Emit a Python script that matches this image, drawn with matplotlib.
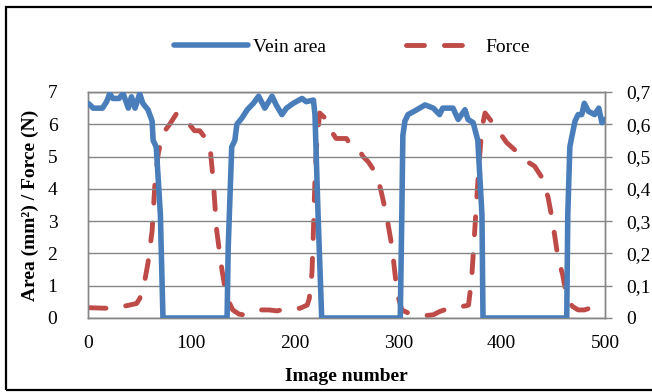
import matplotlib
matplotlib.use("Agg")
import matplotlib.pyplot as plt
from matplotlib.ticker import FuncFormatter
from matplotlib.patches import Rectangle

plt.rcParams['font.family'] = ['Liberation Serif', 'DejaVu Serif']

# Vein area (mm²) vs image number
area_x = [0, 2, 5, 14, 18, 21, 24, 30, 34, 39, 42, 45.5, 50, 53, 58, 62, 63, 66, 70, 72.5,
          134.5, 135.6, 139, 142, 144, 149, 154, 160, 165, 171, 178, 182, 187.5, 192, 198.5,
          207, 211, 218, 219.5, 222.5, 226,
          302, 303.5, 304.5, 306.5, 309.5, 318, 326, 334, 340, 343, 353, 358, 364.6, 367.5,
          372.5, 377, 381, 382,
          463, 464, 466, 467.5, 471, 474, 477.5, 480, 484, 490, 494, 497, 500]
area_y = [6.65, 6.6, 6.5, 6.5, 6.7, 6.95, 6.8, 6.8, 6.95, 6.5, 6.85, 6.5, 6.95, 6.65, 6.45,
          6.1, 5.5, 5.3, 3.2, 0,
          0, 2.2, 5.3, 5.5, 6.0, 6.2, 6.45, 6.65, 6.87, 6.5, 6.87, 6.6, 6.3, 6.5, 6.65,
          6.8, 6.7, 6.75, 6.3, 3.2, 0,
          0, 3.2, 5.65, 6.1, 6.3, 6.45, 6.6, 6.5, 6.3, 6.5, 6.5, 6.15, 6.45, 6.15,
          6.05, 5.5, 3.2, 0,
          0, 3.2, 5.3, 5.55, 6.1, 6.3, 6.3, 6.65, 6.4, 6.3, 6.5, 6.05, 6.15]

# Force (N) vs image number
force_x = [0, 10, 20, 30, 40, 47, 50, 54, 58, 62, 65, 68, 72, 79, 86, 92, 98, 103, 108, 113,
           118, 121, 124.5, 129.5, 134, 140, 146, 150, 158, 166, 175, 183, 190, 197, 205, 212,
           214, 216.6, 218, 219.5, 221, 224, 229, 231, 236, 240, 245, 250, 253, 261, 266, 271,
           276, 280, 284, 289, 294, 299, 303.5, 310, 321, 328, 334, 340, 352, 360, 366, 368,
           371, 374, 377, 379, 381, 384, 390, 395.6, 405, 413, 420.7, 427, 432, 440, 445,
           448.7, 451.6, 454.5, 459, 463, 466, 469, 474, 480, 488, 500]
force_y = [0.032, 0.031, 0.030, 0.033, 0.040, 0.045, 0.06, 0.10, 0.17, 0.27, 0.43, 0.51, 0.57,
           0.60, 0.635, 0.62, 0.60, 0.58, 0.58, 0.56, 0.53, 0.43, 0.27, 0.15, 0.065, 0.025,
           0.012, 0.01, 0.02, 0.025, 0.025, 0.022, 0.028, 0.03, 0.03, 0.04, 0.06, 0.14, 0.27,
           0.43, 0.53, 0.635, 0.62, 0.597, 0.575, 0.556, 0.556, 0.556, 0.54, 0.527, 0.50,
           0.484, 0.46, 0.437, 0.385, 0.313, 0.22, 0.077, 0.025, 0.015, 0.01, 0.008, 0.01,
           0.02, 0.033, 0.035, 0.038, 0.04, 0.12, 0.27, 0.42, 0.51, 0.59, 0.635, 0.61, 0.585,
           0.543, 0.52, 0.50, 0.48, 0.47, 0.43, 0.373, 0.31, 0.25, 0.187, 0.135, 0.065,
           0.045, 0.035, 0.025, 0.025, 0.033, 0.035]

x_ticks = [0, 100, 200, 300, 400, 500]
left_ticks = [0, 1, 2, 3, 4, 5, 6, 7]
right_ticks = [0, 0.1, 0.2, 0.3, 0.4, 0.5, 0.6, 0.7]

BLUE = '#4A7EBB'
RED = '#BE4B48'
GRID = '#868686'
FS = 14

fig = plt.figure(figsize=(6.52, 3.92), dpi=100)
ax = fig.add_axes([88 / 652, 1 - 318 / 392, (605 - 88) / 652, (318 - 92) / 392])
ax2 = ax.twinx()

l1, = ax.plot(area_x, area_y, color=BLUE, lw=4.0, solid_capstyle='round',
              solid_joinstyle='round', label='Vein area', zorder=3)
l2, = ax2.plot(force_x, force_y, color=RED, lw=3.5, dashes=(3.7, 4.1),
               dash_capstyle='round', dash_joinstyle='round', label='Force', zorder=2)

ax.set_xlim(0, 500)
ax.set_ylim(0, 7)
ax2.set_ylim(0, 0.7)
ax.set_xticks(x_ticks)
ax.set_yticks(left_ticks)
ax2.set_yticks(right_ticks)
ax2.yaxis.set_major_formatter(FuncFormatter(
    lambda v, p: '0' if abs(v) < 1e-9 else f'{v:.1f}'.replace('.', ',')))

ax.grid(axis='y', color=GRID, lw=1)
ax.set_axisbelow(True)
for a in (ax, ax2):
    for s in a.spines.values():
        s.set_color(GRID)
        s.set_linewidth(1)
ax.tick_params(axis='x', length=0, pad=12, labelsize=FS, colors='black')
ax.tick_params(axis='y', length=0, pad=22, labelsize=FS)
ax2.tick_params(axis='y', length=5, width=1, color=GRID, pad=10, labelsize=FS)
ax.set_zorder(ax2.get_zorder() + 1)
ax.patch.set_visible(False)

ax.set_xlabel('Image number', fontsize=FS, fontweight='bold', labelpad=12)
ax.set_ylabel('Area (mm²) / Force (N)', fontsize=FS, fontweight='bold', labelpad=6)

fig.legend([l1, l2], ['Vein area', 'Force'], loc='center', bbox_to_anchor=(352 / 652, 1 - 47 / 392),
           ncol=2, frameon=False, fontsize=FS, handlelength=3.8, handletextpad=0.3,
           columnspacing=4.1)

fig.patches.append(Rectangle((6 / 652, 2 / 392), 1.0, 1 - 9 / 392, transform=fig.transFigure,
                             fill=False, edgecolor='black', lw=1.6, zorder=10))

fig.savefig('out.png', dpi=100)
